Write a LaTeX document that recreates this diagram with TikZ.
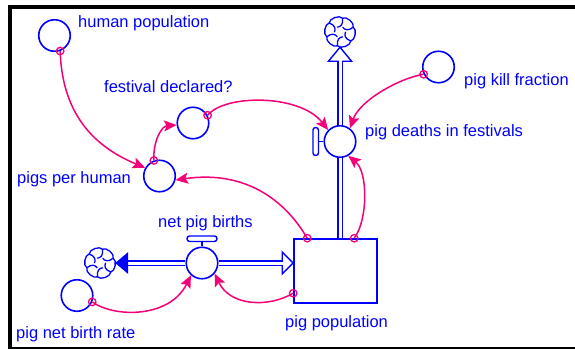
\documentclass[tikz,border=0pt]{standalone}
\usepackage{fontspec}
\setmainfont{Liberation Sans}
\usetikzlibrary{arrows.meta,calc}
\definecolor{vblue}{RGB}{0,0,255}
\definecolor{vpink}{RGB}{245,0,120}
\tikzset{
  aux/.style={circle, draw=vblue, fill=white, line width=1.6pt, minimum size=31.5pt, inner sep=0pt},
  stockbox/.style={rectangle, draw=vblue, fill=white, line width=1.6pt, minimum width=83pt, minimum height=64pt, inner sep=0pt},
  lbl/.style={text=vblue, font=\fontsize{16.5}{18}\selectfont, inner sep=0pt, anchor=base west},
  link/.style={draw=vpink, line width=1.5pt, -{Stealth[length=12.5pt,width=11pt,inset=2.5pt]}},
  tail/.style={circle, draw=vpink, line width=1.3pt, minimum size=7.5pt, inner sep=0pt},
  pipe/.style={draw=vblue, line width=1.4pt, double=white, double distance=3pt},
  valve/.style={draw=vblue, line width=1.4pt, fill=white, rounded corners=2.6pt},
  headline/.style={draw=vblue, line width=1.4pt, fill=white},
  cloudmark/.style={circle, minimum size=30pt, inner sep=0pt},
  vcloud/.pic={
    \foreach \i in {0,...,5}{
      \pgfmathsetmacro\a{60*\i+20}
      \draw[vblue, line width=1.3pt, line cap=round, line join=round]
        (\a:14) .. controls (\a+10:17.5) and (\a+50:17.5) .. (\a+60:14)
        (\a:14) .. controls (\a-15:8.5) and (\a+5:5) .. (\a+38:5.5);
    }
  }
}
\begin{document}
\begin{tikzpicture}[x=1pt,y=1pt]
\useasboundingbox (0,0) rectangle (575,-349);
% window frame
\draw[line width=4pt] (8,-7) -- (575,-7);
\draw[line width=4pt] (10,-5) -- (10,-349);
\draw[line width=1.7pt] (8,-348) -- (575,-348);

% sources and sinks
\node[cloudmark] (cloudL) at (100,-263) {};
\node[cloudmark] (cloudT) at (340,-32) {};
\pic at (cloudL) {vcloud};
\pic at (cloudT) {vcloud};

% stock, rates and auxiliaries
\node[stockbox] (stock) at (335.5,-271) {};
\node[aux] (npb) at (202,-263) {};
\node[aux] (pd) at (340,-141.5) {};
\node[aux] (hp) at (54.5,-35.5) {};
\node[aux] (pph) at (159.5,-176) {};
\node[aux] (fd) at (193,-123) {};
\node[aux] (pkf) at (438.5,-67) {};
\node[aux] (pnbr) at (77,-295.5) {};

% flow pipes with their heads; the pipe stays open through an outlined head
\draw[pipe] (npb.west) -- ($(cloudL.east)+(13,0)$);
\fill[vblue] (cloudL.east) -- ++(13,11) -- ++(0,-22) -- cycle;
\draw[headline] (npb.east -| stock.west) -- ++(-11,11) -- ++(0,-22) -- cycle;
\draw[pipe] (npb.east) -- ($(npb.east -| stock.west)+(-11,0)$);
\draw[white, line width=3pt] ($(npb.east -| stock.west)+(-11.8,0)$) -- ++(3,0);
\draw[pipe] (pd.south) -- (pd.south |- stock.north);
\draw[headline] (cloudT.south) -- ++(-11.5,-14) -- ++(23,0) -- cycle;
\draw[pipe] (pd.north) -- ($(cloudT.south)+(0,-14)$);
\draw[white, line width=3pt] ($(cloudT.south)+(0,-14.8)$) -- ++(0,3);

% valves
\draw[vblue, line width=1.4pt] (npb.north) -- ++(0,5);
\draw[valve] ($(npb.north)+(-15,5)$) rectangle ++(30,5.5);
\draw[vblue, line width=1.4pt] (pd.west) -- ++(-5,0);
\draw[valve] ($(pd.west)+(-5,-14)$) rectangle ++(-5.5,28);

% information links
\draw[link] (hp.-70) .. controls (62,-110) and (90,-145) .. (pph.150);
\draw[link] (pph.110) .. controls (153,-140) and (162,-126) .. (fd.187);
\draw[link] (fd.28) .. controls (225,-94) and (300,-94) .. (pd.136);
\draw[link] (pkf.206) .. controls (400,-78) and (360,-100) .. (pd.53);
\draw[link] ([xshift=61pt]stock.north west) .. controls (368,-220) and (368,-172) .. (pd.-60);
\draw[link] ([xshift=14pt]stock.north west) .. controls (285,-200) and (245,-170) .. (pph.-14);
\draw[link] (pnbr.-23) .. controls (115,-318) and (170,-318) .. (npb.-132);
\draw[link] ([yshift=-55pt]stock.north west) .. controls (268,-308) and (230,-306) .. (npb.-40);

% link tails
\node[tail] (t1) at (hp.-70) {};
\node[tail] (t2) at (pph.110) {};
\node[tail] (t3) at (fd.28) {};
\node[tail] (t4) at (pkf.206) {};
\node[tail] (t5) at ([xshift=61pt]stock.north west) {};
\node[tail] (t6) at ([xshift=14pt]stock.north west) {};
\node[tail] (t7) at (pnbr.-23) {};
\node[tail] (t8) at ([yshift=-55pt]stock.north west) {};

% names
\node[lbl] (lhp) at (78,-27) {human population};
\node[lbl] (lfd) at (104,-92) {festival declared?};
\node[lbl] (lpph) at (17,-183) {pigs per human};
\node[lbl] (lpd) at (365,-136) {pig deaths in festivals};
\node[lbl] (lpkf) at (464,-85) {pig kill fraction};
\node[lbl] (lnpb) at (158,-227) {net pig births};
\node[lbl] (lpnbr) at (16,-338) {pig net birth rate};
\node[lbl] (lpp) at (285,-327) {pig population};
\end{tikzpicture}
\end{document}
